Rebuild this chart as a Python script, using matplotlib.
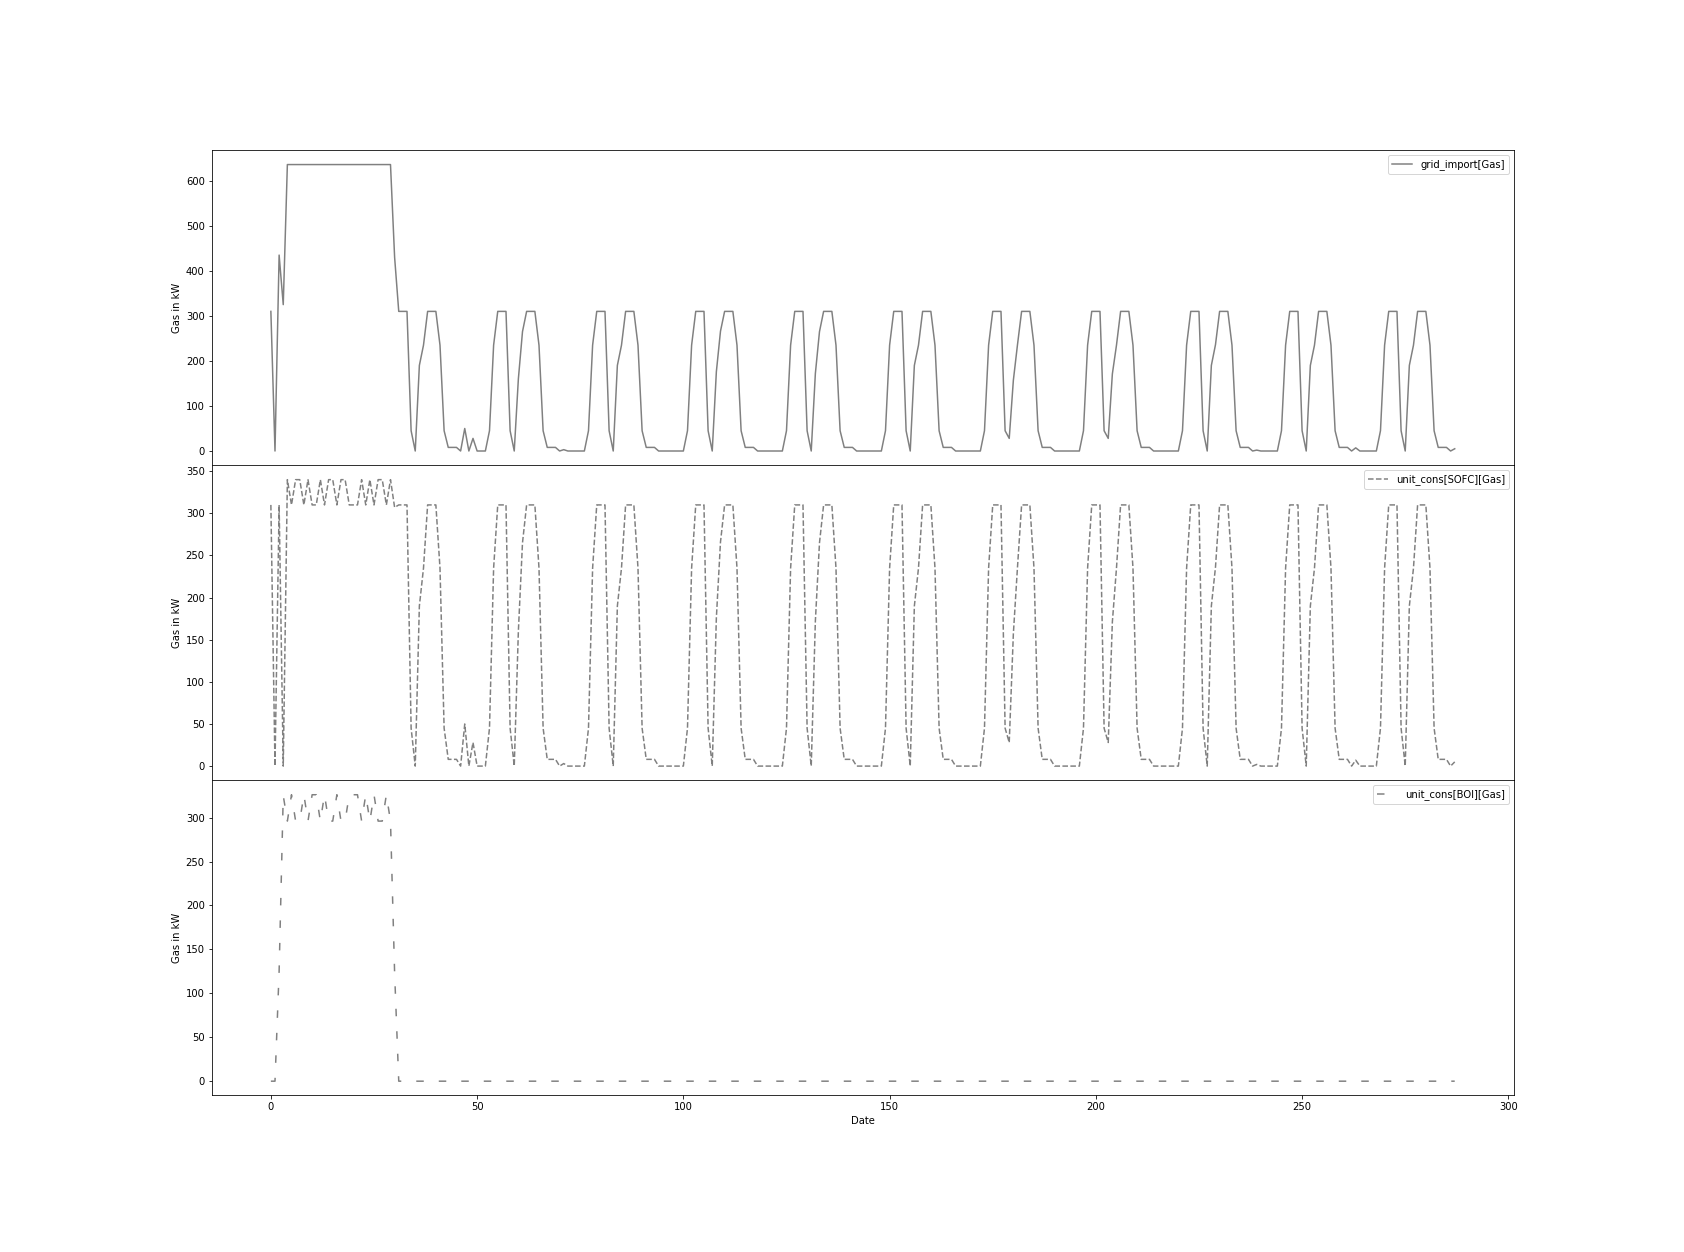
import numpy as np
import matplotlib
matplotlib.use("Agg")
import matplotlib.pyplot as plt

# gas flows over one horizon (kW)
grid_import = [
    310, 0, 435, 325, 636, 636, 636, 636, 636, 636, 636, 636, 636, 636, 636, 636, 636, 636, 636, 636, 636, 636, 636, 636,
    636, 636, 636, 636, 636, 636, 430, 310, 310, 310, 45, 0, 190, 235, 310, 310, 310, 235, 45, 8, 8, 8, 0, 50,
    0, 28, 0, 0, 0, 45, 235, 310, 310, 310, 45, 0, 160, 265, 310, 310, 310, 235, 45, 8, 8, 8, 0, 3,
    0, 0, 0, 0, 0, 45, 235, 310, 310, 310, 45, 0, 190, 235, 310, 310, 310, 235, 45, 8, 8, 8, 0, 0,
    0, 0, 0, 0, 0, 45, 235, 310, 310, 310, 45, 0, 176, 266, 310, 310, 310, 235, 45, 8, 8, 8, 0, 0,
    0, 0, 0, 0, 0, 45, 235, 310, 310, 310, 45, 0, 172, 265, 310, 310, 310, 235, 45, 8, 8, 8, 0, 0,
    0, 0, 0, 0, 0, 45, 235, 310, 310, 310, 45, 0, 190, 235, 310, 310, 310, 235, 45, 8, 8, 8, 0, 0,
    0, 0, 0, 0, 0, 45, 235, 310, 310, 310, 45, 28, 157, 236, 310, 310, 310, 235, 45, 8, 8, 8, 0, 0,
    0, 0, 0, 0, 0, 45, 235, 310, 310, 310, 45, 28, 171, 235, 310, 310, 310, 235, 45, 8, 8, 8, 0, 0,
    0, 0, 0, 0, 0, 45, 235, 310, 310, 310, 45, 0, 190, 236, 310, 310, 310, 235, 45, 8, 8, 8, 0, 2,
    0, 0, 0, 0, 0, 45, 235, 310, 310, 310, 45, 0, 190, 235, 310, 310, 310, 235, 45, 8, 8, 8, 0, 7,
    0, 0, 0, 0, 0, 45, 235, 310, 310, 310, 45, 0, 190, 235, 310, 310, 310, 235, 45, 8, 8, 8, 0, 5,
]

sofc_gas = [
    310, 0, 310, 0, 340, 310, 340, 340, 310, 340, 310, 310, 340, 310, 340, 340, 310, 340, 340, 310, 310, 310, 340, 310,
    340, 310, 340, 340, 310, 340, 307, 310, 310, 310, 45, 0, 190, 235, 310, 310, 310, 235, 45, 8, 8, 8, 0, 50,
    0, 28, 0, 0, 0, 45, 235, 310, 310, 310, 45, 0, 160, 265, 310, 310, 310, 235, 45, 8, 8, 8, 0, 3,
    0, 0, 0, 0, 0, 45, 235, 310, 310, 310, 45, 0, 190, 235, 310, 310, 310, 235, 45, 8, 8, 8, 0, 0,
    0, 0, 0, 0, 0, 45, 235, 310, 310, 310, 45, 0, 176, 266, 310, 310, 310, 235, 45, 8, 8, 8, 0, 0,
    0, 0, 0, 0, 0, 45, 235, 310, 310, 310, 45, 0, 172, 265, 310, 310, 310, 235, 45, 8, 8, 8, 0, 0,
    0, 0, 0, 0, 0, 45, 235, 310, 310, 310, 45, 0, 190, 235, 310, 310, 310, 235, 45, 8, 8, 8, 0, 0,
    0, 0, 0, 0, 0, 45, 235, 310, 310, 310, 45, 28, 157, 236, 310, 310, 310, 235, 45, 8, 8, 8, 0, 0,
    0, 0, 0, 0, 0, 45, 235, 310, 310, 310, 45, 28, 171, 235, 310, 310, 310, 235, 45, 8, 8, 8, 0, 0,
    0, 0, 0, 0, 0, 45, 235, 310, 310, 310, 45, 0, 190, 236, 310, 310, 310, 235, 45, 8, 8, 8, 0, 2,
    0, 0, 0, 0, 0, 45, 235, 310, 310, 310, 45, 0, 190, 235, 310, 310, 310, 235, 45, 8, 8, 8, 0, 7,
    0, 0, 0, 0, 0, 45, 235, 310, 310, 310, 45, 0, 190, 235, 310, 310, 310, 235, 45, 8, 8, 8, 0, 5,
]

boi_gas = [
    0, 0, 125, 325, 296, 326, 296, 296, 326, 296, 326, 326, 296, 326, 296, 296, 326, 296, 296, 326, 326, 326, 296, 326,
    296, 326, 296, 296, 326, 296, 123, 0, 0, 0, 0, 0, 0, 0, 0, 0, 0, 0, 0, 0, 0, 0, 0, 0,
    0, 0, 0, 0, 0, 0, 0, 0, 0, 0, 0, 0, 0, 0, 0, 0, 0, 0, 0, 0, 0, 0, 0, 0,
    0, 0, 0, 0, 0, 0, 0, 0, 0, 0, 0, 0, 0, 0, 0, 0, 0, 0, 0, 0, 0, 0, 0, 0,
    0, 0, 0, 0, 0, 0, 0, 0, 0, 0, 0, 0, 0, 0, 0, 0, 0, 0, 0, 0, 0, 0, 0, 0,
    0, 0, 0, 0, 0, 0, 0, 0, 0, 0, 0, 0, 0, 0, 0, 0, 0, 0, 0, 0, 0, 0, 0, 0,
    0, 0, 0, 0, 0, 0, 0, 0, 0, 0, 0, 0, 0, 0, 0, 0, 0, 0, 0, 0, 0, 0, 0, 0,
    0, 0, 0, 0, 0, 0, 0, 0, 0, 0, 0, 0, 0, 0, 0, 0, 0, 0, 0, 0, 0, 0, 0, 0,
    0, 0, 0, 0, 0, 0, 0, 0, 0, 0, 0, 0, 0, 0, 0, 0, 0, 0, 0, 0, 0, 0, 0, 0,
    0, 0, 0, 0, 0, 0, 0, 0, 0, 0, 0, 0, 0, 0, 0, 0, 0, 0, 0, 0, 0, 0, 0, 0,
    0, 0, 0, 0, 0, 0, 0, 0, 0, 0, 0, 0, 0, 0, 0, 0, 0, 0, 0, 0, 0, 0, 0, 0,
    0, 0, 0, 0, 0, 0, 0, 0, 0, 0, 0, 0, 0, 0, 0, 0, 0, 0, 0, 0, 0, 0, 0, 0,
]

labels = ["grid_import[Gas]", "unit_cons[SOFC][Gas]", "unit_cons[BOI][Gas]"]
styles = ["-", "--", (0, (5, 10))]

# saved at 72 dpi, so text and dashes come out small
fig, axes = plt.subplots(3, 1, sharex=True, figsize=(1684 / 72, 1252 / 72), dpi=72)
fig.subplots_adjust(left=0.1257, right=0.899, top=0.88, bottom=0.125, hspace=0)

for ax, series, lab, ls in zip(axes, [grid_import, sofc_gas, boi_gas], labels, styles):
    ax.plot(np.arange(len(series)), series, color="gray", linestyle=ls, label=lab)
    ax.set_ylabel("Gas in kW")
    ax.legend(loc="upper right")

axes[-1].set_xlabel("Date")

plt.savefig("out.png")
